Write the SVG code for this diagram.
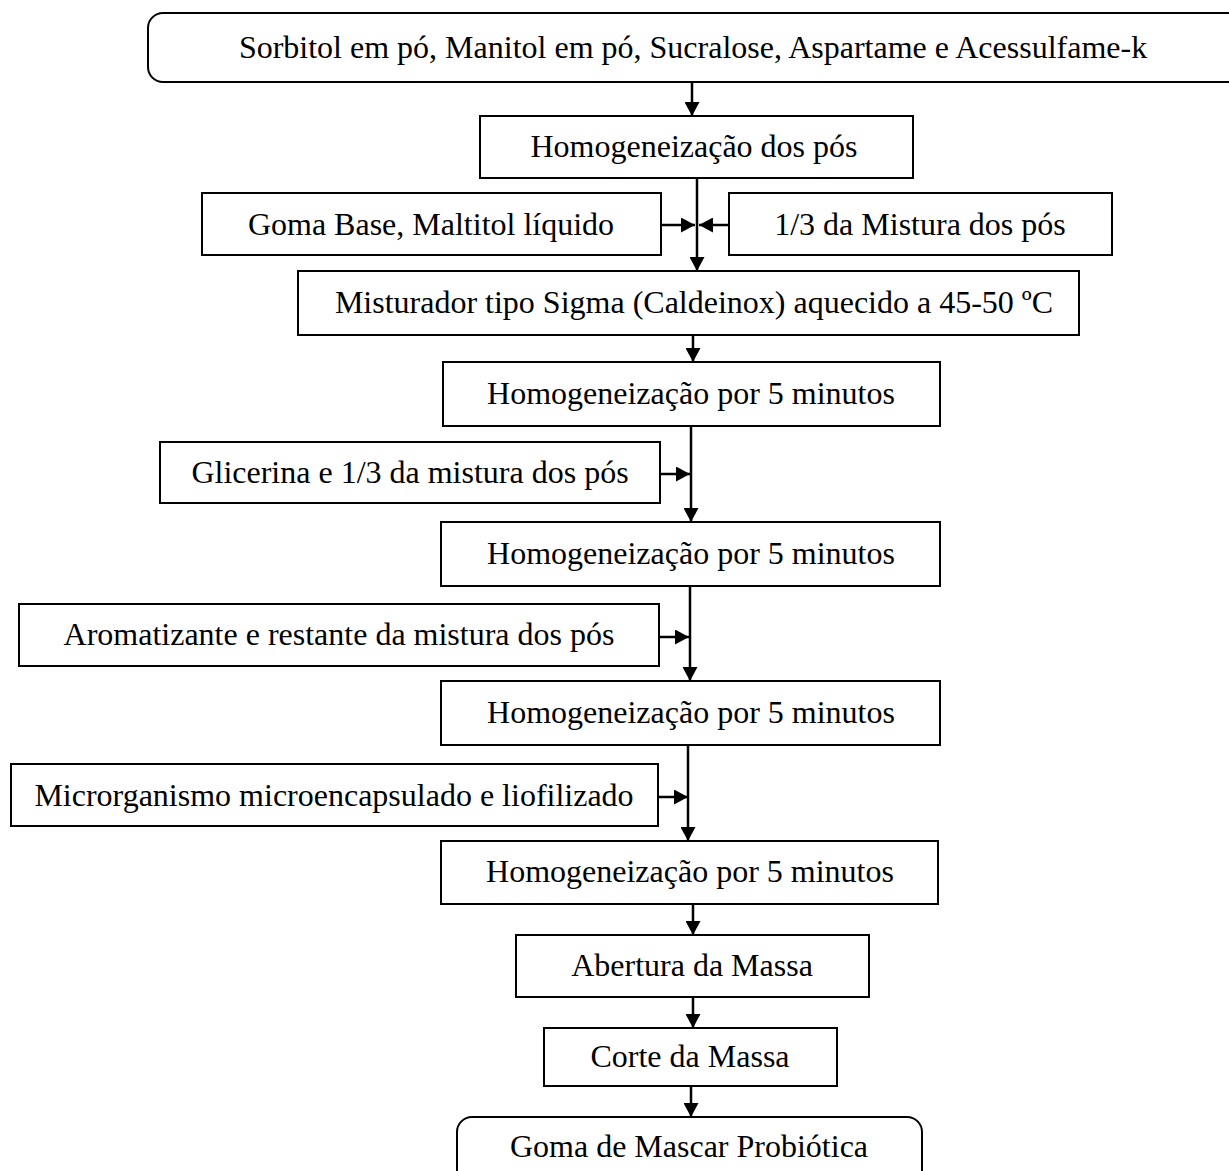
<svg xmlns="http://www.w3.org/2000/svg" width="1229" height="1171" viewBox="0 0 1229 1171">
  <style>
    .box { fill: #ffffff; stroke: #000000; stroke-width: 2; }
    .lbl { font-family: "Liberation Serif", "Times New Roman", serif; font-size: 32px; fill: #000000; text-anchor: middle; }
    .link { fill: none; stroke: #000000; stroke-width: 2.5; }
    .flow { marker-end: url(#head); }
  </style>
  <defs>
    <marker id="head" viewBox="0 0 14 15" refX="14" refY="7.5" markerWidth="14" markerHeight="15" markerUnits="userSpaceOnUse" orient="auto">
      <path d="M0,0 L14,7.5 L0,15 z" fill="#000000"/>
    </marker>
  </defs>

  <rect width="1229" height="1171" fill="#ffffff"/>

  <!-- process steps -->
  <g id="n-ingredientes">
    <rect class="box" x="148" y="13" width="1100" height="69" rx="15" ry="15"/>
    <text class="lbl" x="693" y="58">Sorbitol em pó, Manitol em pó, Sucralose, Aspartame e Acessulfame-k</text>
  </g>
  <g id="n-homog-pos">
    <rect class="box" x="480" y="116" width="433" height="62"/>
    <text class="lbl" x="694" y="157">Homogeneização dos pós</text>
  </g>
  <g id="n-goma-base">
    <rect class="box" x="202" y="193" width="459" height="62"/>
    <text class="lbl" x="431" y="235">Goma Base, Maltitol líquido</text>
  </g>
  <g id="n-terco-1">
    <rect class="box" x="729" y="193" width="383" height="62"/>
    <text class="lbl" x="920" y="235">1/3 da Mistura dos pós</text>
  </g>
  <g id="n-misturador">
    <rect class="box" x="298" y="271" width="781" height="64"/>
    <text class="lbl" x="694" y="313">Misturador tipo Sigma (Caldeinox) aquecido a 45-50 ºC</text>
  </g>
  <g id="n-homog-1">
    <rect class="box" x="443" y="362" width="497" height="64"/>
    <text class="lbl" x="691" y="404">Homogeneização por 5 minutos</text>
  </g>
  <g id="n-glicerina">
    <rect class="box" x="160" y="442" width="500" height="61"/>
    <text class="lbl" x="410" y="483">Glicerina e 1/3 da mistura dos pós</text>
  </g>
  <g id="n-homog-2">
    <rect class="box" x="441" y="522" width="499" height="64"/>
    <text class="lbl" x="691" y="564">Homogeneização por 5 minutos</text>
  </g>
  <g id="n-aromatizante">
    <rect class="box" x="19" y="604" width="640" height="62"/>
    <text class="lbl" x="339" y="645">Aromatizante e restante da mistura dos pós</text>
  </g>
  <g id="n-homog-3">
    <rect class="box" x="441" y="681" width="499" height="64"/>
    <text class="lbl" x="691" y="723">Homogeneização por 5 minutos</text>
  </g>
  <g id="n-microrganismo">
    <rect class="box" x="11" y="764" width="647" height="62"/>
    <text class="lbl" x="334" y="806">Microrganismo microencapsulado e liofilizado</text>
  </g>
  <g id="n-homog-4">
    <rect class="box" x="441" y="841" width="497" height="63"/>
    <text class="lbl" x="690" y="882">Homogeneização por 5 minutos</text>
  </g>
  <g id="n-abertura">
    <rect class="box" x="516" y="935" width="353" height="62"/>
    <text class="lbl" x="692" y="976">Abertura da Massa</text>
  </g>
  <g id="n-corte">
    <rect class="box" x="544" y="1028" width="293" height="58"/>
    <text class="lbl" x="690" y="1067">Corte da Massa</text>
  </g>
  <g id="n-produto">
    <rect class="box" x="457" y="1117" width="465" height="80" rx="15" ry="15"/>
    <text class="lbl" x="689" y="1157">Goma de Mascar Probiótica</text>
  </g>

  <!-- connectors -->
  <g id="connectors">
    <line class="link flow" x1="692" y1="82" x2="692" y2="116"/>
    <line class="link flow" x1="697" y1="178" x2="697" y2="271"/>
    <line class="link flow" x1="661" y1="225" x2="695" y2="225"/>
    <line class="link flow" x1="729" y1="225" x2="699" y2="225"/>
    <line class="link flow" x1="693" y1="335" x2="693" y2="362"/>
    <line class="link flow" x1="691" y1="426" x2="691" y2="522"/>
    <line class="link flow" x1="660" y1="474" x2="690" y2="474"/>
    <line class="link flow" x1="690" y1="586" x2="690" y2="681"/>
    <line class="link flow" x1="659" y1="637" x2="689" y2="637"/>
    <line class="link flow" x1="688" y1="745" x2="688" y2="841"/>
    <line class="link flow" x1="658" y1="797" x2="688" y2="797"/>
    <line class="link flow" x1="693" y1="904" x2="693" y2="935"/>
    <line class="link flow" x1="693" y1="997" x2="693" y2="1028"/>
    <line class="link flow" x1="691" y1="1086" x2="691" y2="1117"/>
  </g>
</svg>
